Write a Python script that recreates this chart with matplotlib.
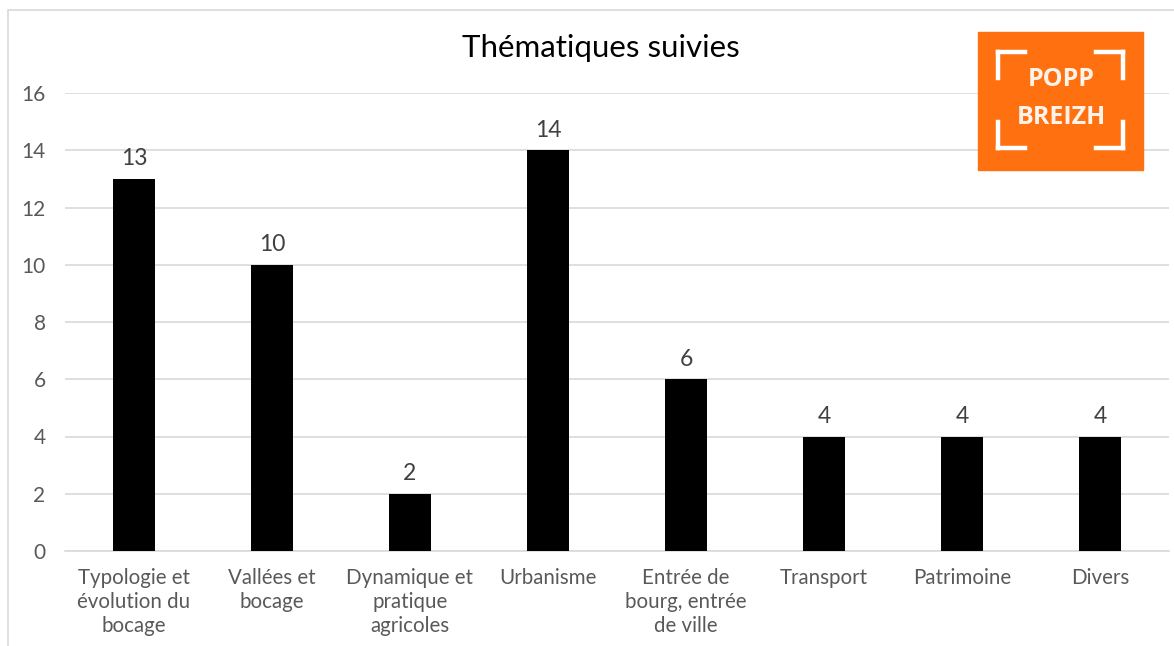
import matplotlib.pyplot as plt
from matplotlib.patches import Rectangle
from matplotlib.lines import Line2D

plt.rcParams['font.family'] = ['Lato', 'DejaVu Sans']

categories = ["Typologie et\névolution du\nbocage", "Vallées et\nbocage", "Dynamique et\npratique\nagricoles",
              "Urbanisme", "Entrée de\nbourg, entrée\nde ville", "Transport", "Patrimoine", "Divers"]
counts = [13, 10, 2, 14, 6, 4, 4, 4]
yticks = [0, 2, 4, 6, 8, 10, 12, 14, 16]

W, H = 1174, 646
fig = plt.figure(figsize=(W / 100, H / 100), dpi=100)

# outer chart frame
fig.patches.append(Rectangle((8 / W, -0.1), 1.2, 1 - 10 / H + 0.1, transform=fig.transFigure,
                             fill=False, edgecolor='#d9d9d9', linewidth=1.2))

ax = fig.add_axes([65 / W, (H - 551) / H, (1169 - 65) / W, (551 - 93) / H])
x = range(len(categories))
bars = ax.bar(x, counts, width=0.31, color='black', zorder=3)
for xi, v in zip(x, counts):
    ax.annotate(str(v), (xi, v), xytext=(0, 7), textcoords='offset points', ha='center', va='bottom',
                fontsize=16.5, color='#404040')

ax.set_xlim(-0.5, len(categories) - 0.5)
ax.set_ylim(0, 16)
ax.set_yticks(yticks)
ax.set_xticks(list(x))
ax.set_xticklabels(categories, fontsize=14.8, color='#595959', linespacing=1.25)
ax.tick_params(axis='y', labelsize=15, labelcolor='#595959', length=0, pad=14)
ax.tick_params(axis='x', length=0, pad=12)
ax.grid(axis='y', color='#d9d9d9', linewidth=1.2, zorder=0)
for s in ['top', 'right', 'left']:
    ax.spines[s].set_visible(False)
ax.spines['bottom'].set_color('#d9d9d9')
ax.spines['bottom'].set_linewidth(1.2)

fig.text(601 / W, 1 - 48 / H, "Thématiques suivies", ha='center', va='center', fontsize=22.5, color='black')

# POPP BREIZH logo
lx0, ly0, lx1, ly1 = 978, 32, 1143, 170
fig.patches.append(Rectangle((lx0 / W, 1 - ly1 / H), (lx1 - lx0) / W, (ly1 - ly0) / H,
                             transform=fig.transFigure, color='#ff7010', zorder=5))
bk = dict(color='white', linewidth=3.2, transform=fig.transFigure, zorder=6, solid_capstyle='projecting')
for cx, cy, dx, dy in [(998, 52, 1, 1), (1123, 52, -1, 1), (998, 148, 1, -1), (1123, 148, -1, -1)]:
    fig.lines.append(Line2D([cx / W, (cx + 27 * dx) / W], [1 - cy / H, 1 - cy / H], **bk))
    fig.lines.append(Line2D([cx / W, cx / W], [1 - cy / H, 1 - (cy + 26 * dy) / H], **bk))
fig.text(1061 / W, 1 - 80 / H, "POPP", ha='center', va='center', fontsize=18, fontweight='bold',
         color='#fff3ea', zorder=7, family=['Open Sans', 'DejaVu Sans'])
fig.text(1061 / W, 1 - 117 / H, "BREIZH", ha='center', va='center', fontsize=18, fontweight='bold',
         color='#fff3ea', zorder=7, family=['Open Sans', 'DejaVu Sans'])

fig.savefig('out.png', dpi=100, facecolor='white')
